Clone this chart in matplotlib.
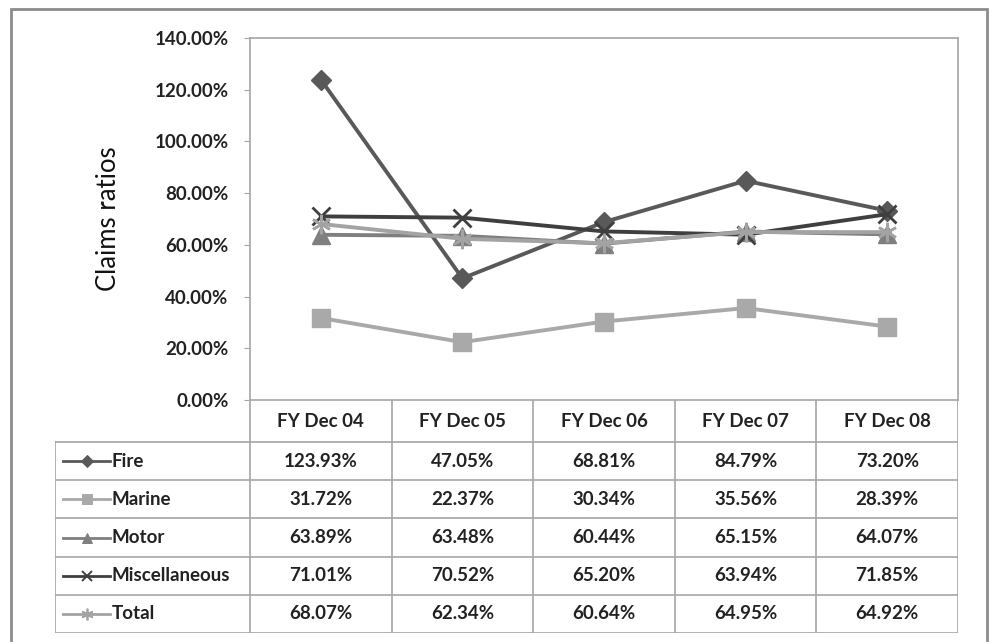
import matplotlib
matplotlib.use("Agg")
import matplotlib.pyplot as plt
from matplotlib.patches import Rectangle

plt.rcParams["font.family"] = ["Lato", "DejaVu Sans"]
plt.rcParams["font.weight"] = "bold"

# ------------------------------------------------------
# Data (claims ratios, %)
# ------------------------------------------------------
years = ["FY Dec 04", "FY Dec 05", "FY Dec 06", "FY Dec 07", "FY Dec 08"]
fire = [123.93, 47.05, 68.81, 84.79, 73.20]
marine = [31.72, 22.37, 30.34, 35.56, 28.39]
motor = [63.89, 63.48, 60.44, 65.15, 64.07]
misc = [71.01, 70.52, 65.20, 63.94, 71.85]
total = [68.07, 62.34, 60.64, 64.95, 64.92]

series = [
    ("Fire", fire, "#595959", "D", 10, 1.0),
    ("Marine", marine, "#a9a9a9", "s", 13, 1.0),
    ("Motor", motor, "#7f7f7f", "^", 13, 1.0),
    ("Miscellaneous", misc, "#3f3f3f", "x", 13, 2.0),
    ("Total", total, "#a3a3a3", (6, 2, 0), 14, 1.8),
]

W, H = 992, 642
fig = plt.figure(figsize=(W / 100, H / 100), dpi=100)

# outer frame
fig.patches.append(Rectangle((11 / W, -0.02), (987 - 11) / W, 1 - 9 / H + 0.02,
                             transform=fig.transFigure, fill=False,
                             edgecolor="#8c8c8c", linewidth=2.0))

grid_c = "#a6a6a6"
txt_c = "#222222"
fs = 13.5
left, right, top, bottom = 250, 958, 38, 400
ax = fig.add_axes([left / W, 1 - bottom / H, (right - left) / W, (bottom - top) / H])

x = list(range(len(years)))
for name, vals, col, mk, ms, mew in series:
    ax.plot(x, vals, color=col, linewidth=2.8, marker=mk, markersize=ms,
            markeredgewidth=mew, markeredgecolor=col, markerfacecolor=col,
            label=name)

ax.set_xlim(-0.5, len(years) - 0.5)
ax.set_ylim(0, 140)
ax.set_yticks(range(0, 141, 20))
ax.set_yticklabels([f"{v:.2f}%" for v in range(0, 141, 20)])
ax.set_xticks([])
ax.tick_params(axis="y", length=4.5, color=grid_c, labelsize=fs, pad=11,
               labelcolor=txt_c)
for s in ax.spines.values():
    s.set_color(grid_c)
    s.set_linewidth(1.2)
ax.set_ylabel("Claims ratios", fontsize=18.5, fontweight="normal", color="#111111")
ax.yaxis.set_label_coords(-0.182, 0.5)

# ------------------------------------------------------
# Data table below the plot
# ------------------------------------------------------
tb_left, tb_bottom = 55, 633
cat_w = (right - left) / len(years)
x0 = -0.5 - (left - tb_left) / cat_w
tax = fig.add_axes([tb_left / W, 1 - tb_bottom / H, (right - tb_left) / W,
                    (tb_bottom - bottom) / H])
tax.set_xlim(x0, len(years) - 0.5)
hdr = 1.1
nrow = len(series)
tax.set_ylim(hdr + nrow, 0)
tax.axis("off")

lw = 1.2
# horizontal lines
tax.plot([-0.5, len(years) - 0.5], [hdr, hdr], color=grid_c, lw=lw)
for r in range(1, nrow + 1):
    tax.plot([x0, len(years) - 0.5], [hdr + r, hdr + r], color=grid_c, lw=lw)
tax.plot([x0, -0.5], [hdr, hdr], color=grid_c, lw=lw)
# vertical lines
tax.plot([x0, x0], [hdr, hdr + nrow], color=grid_c, lw=lw)
for i in range(len(years) + 1):
    tax.plot([i - 0.5, i - 0.5], [0, hdr + nrow], color=grid_c, lw=lw)

for i, yr in enumerate(years):
    tax.text(i, hdr / 2, yr, ha="center", va="center", fontsize=fs,
             color=txt_c)

for r, (name, vals, col, mk, ms, mew) in enumerate(series):
    yc = hdr + r + 0.5
    lx0 = x0 + 0.055
    lx1 = x0 + 0.39
    tax.plot([lx0, lx1], [yc, yc], color=col, lw=2.0)
    tax.plot([(lx0 + lx1) / 2], [yc], marker=mk, color=col, markersize=ms * 0.6,
             markeredgewidth=mew * 0.7, markeredgecolor=col)
    tax.text(lx1 + 0.01, yc, name, ha="left", va="center", fontsize=fs,
             color=txt_c)
    for i, v in enumerate(vals):
        tax.text(i, yc, f"{v:.2f}%", ha="center", va="center", fontsize=fs,
                 color=txt_c)

fig.savefig("out.png", dpi=100)
